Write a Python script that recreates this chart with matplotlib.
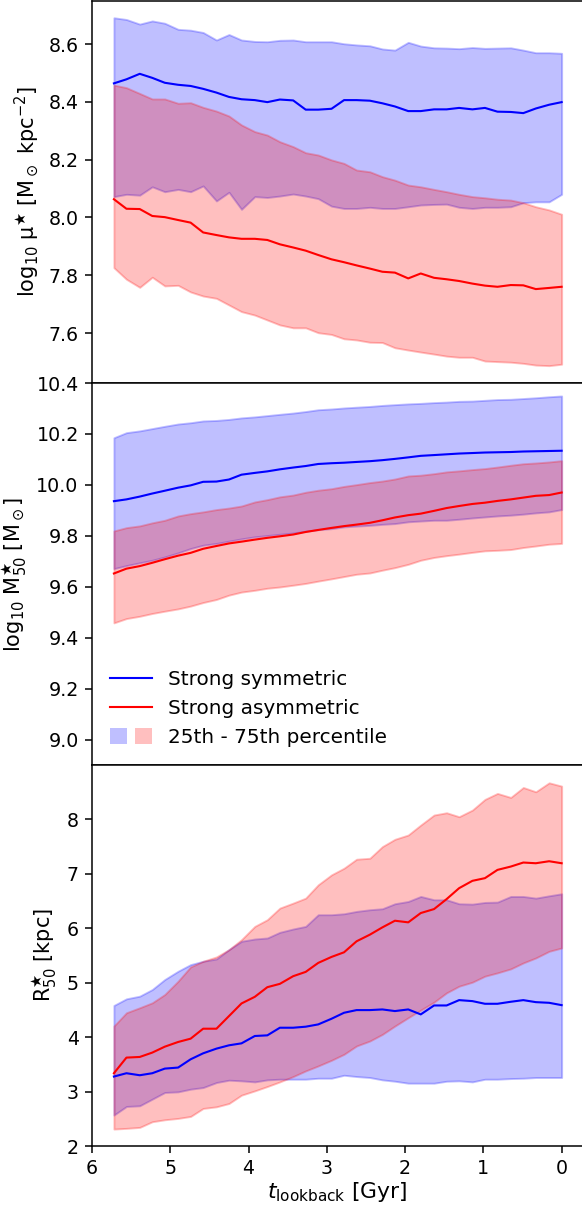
import numpy as np
import matplotlib
matplotlib.use('Agg')
import matplotlib.pyplot as plt
from matplotlib.patches import Patch
from matplotlib.lines import Line2D
from matplotlib.legend_handler import HandlerTuple

# ルックバックタイム [Gyr]
t_lookback = [5.72, 5.56, 5.39, 5.23, 5.07, 4.90, 4.74, 4.58, 4.41, 4.25, 4.09, 3.92,
              3.76, 3.60, 3.43, 3.27, 3.11, 2.94, 2.78, 2.62, 2.45, 2.29, 2.13, 1.96,
              1.80, 1.63, 1.47, 1.31, 1.14, 0.98, 0.82, 0.65, 0.49, 0.33, 0.16, 0.00]

# 表面密度 log10 mu*
mu_sym_med = [8.464, 8.478, 8.497, 8.483, 8.466, 8.459, 8.455, 8.445, 8.432, 8.417, 8.409, 8.406,
              8.399, 8.408, 8.405, 8.373, 8.373, 8.376, 8.406, 8.406, 8.404, 8.395, 8.384, 8.368,
              8.368, 8.374, 8.374, 8.379, 8.374, 8.379, 8.366, 8.365, 8.361, 8.377, 8.390, 8.399]
mu_sym_hi = [8.691, 8.685, 8.669, 8.680, 8.672, 8.651, 8.648, 8.640, 8.614, 8.633, 8.614, 8.609,
             8.608, 8.613, 8.614, 8.608, 8.608, 8.608, 8.601, 8.597, 8.594, 8.583, 8.579, 8.606,
             8.593, 8.587, 8.586, 8.584, 8.588, 8.585, 8.586, 8.587, 8.579, 8.570, 8.570, 8.568]
mu_sym_lo = [8.072, 8.080, 8.077, 8.106, 8.089, 8.097, 8.089, 8.109, 8.057, 8.087, 8.028, 8.072,
             8.069, 8.074, 8.081, 8.074, 8.065, 8.039, 8.031, 8.031, 8.035, 8.031, 8.031, 8.037,
             8.043, 8.045, 8.046, 8.035, 8.031, 8.035, 8.035, 8.037, 8.051, 8.054, 8.054, 8.080]
mu_asym_med = [8.063, 8.030, 8.029, 8.005, 8.001, 7.991, 7.982, 7.948, 7.939, 7.931, 7.926, 7.926,
               7.922, 7.907, 7.896, 7.885, 7.870, 7.855, 7.845, 7.834, 7.823, 7.812, 7.809, 7.789,
               7.806, 7.791, 7.786, 7.780, 7.771, 7.764, 7.760, 7.766, 7.765, 7.752, 7.756, 7.760]
mu_asym_hi = [8.458, 8.449, 8.429, 8.410, 8.410, 8.395, 8.397, 8.381, 8.368, 8.351, 8.320, 8.297,
              8.285, 8.262, 8.245, 8.224, 8.216, 8.199, 8.187, 8.164, 8.158, 8.141, 8.129, 8.112,
              8.106, 8.097, 8.089, 8.080, 8.072, 8.068, 8.063, 8.060, 8.051, 8.037, 8.026, 8.011]
mu_asym_lo = [7.826, 7.786, 7.758, 7.793, 7.763, 7.765, 7.742, 7.728, 7.720, 7.697, 7.674, 7.662,
              7.645, 7.628, 7.618, 7.618, 7.601, 7.595, 7.580, 7.576, 7.568, 7.567, 7.549, 7.541,
              7.534, 7.527, 7.520, 7.516, 7.516, 7.503, 7.501, 7.499, 7.495, 7.489, 7.487, 7.492]

# 恒星質量 log10 M*_50
m_sym_med = [9.936, 9.943, 9.954, 9.966, 9.977, 9.989, 9.998, 10.012, 10.013, 10.021, 10.040, 10.047,
             10.053, 10.061, 10.068, 10.074, 10.082, 10.085, 10.087, 10.090, 10.093, 10.097, 10.102, 10.108,
             10.114, 10.117, 10.120, 10.123, 10.125, 10.127, 10.128, 10.129, 10.131, 10.132, 10.133, 10.134]
m_sym_hi = [10.185, 10.205, 10.212, 10.221, 10.230, 10.239, 10.244, 10.251, 10.253, 10.257, 10.263, 10.267,
            10.272, 10.277, 10.282, 10.288, 10.295, 10.298, 10.302, 10.305, 10.308, 10.312, 10.315, 10.318,
            10.320, 10.323, 10.325, 10.328, 10.329, 10.332, 10.335, 10.336, 10.339, 10.342, 10.346, 10.349]
m_sym_lo = [9.671, 9.683, 9.694, 9.704, 9.717, 9.733, 9.750, 9.763, 9.770, 9.779, 9.788, 9.796,
            9.801, 9.806, 9.811, 9.818, 9.824, 9.828, 9.835, 9.838, 9.841, 9.845, 9.848, 9.855,
            9.858, 9.861, 9.861, 9.865, 9.870, 9.874, 9.878, 9.881, 9.885, 9.890, 9.894, 9.903]
m_asym_med = [9.652, 9.671, 9.681, 9.694, 9.708, 9.722, 9.733, 9.749, 9.760, 9.770, 9.777, 9.785,
              9.792, 9.798, 9.805, 9.815, 9.823, 9.831, 9.838, 9.844, 9.851, 9.861, 9.872, 9.881,
              9.887, 9.898, 9.909, 9.917, 9.925, 9.930, 9.937, 9.943, 9.950, 9.957, 9.960, 9.970]
m_asym_hi = [9.819, 9.832, 9.839, 9.851, 9.861, 9.878, 9.887, 9.894, 9.903, 9.909, 9.917, 9.933,
             9.942, 9.953, 9.960, 9.971, 9.979, 9.985, 9.994, 10.001, 10.009, 10.015, 10.023, 10.035,
             10.038, 10.044, 10.051, 10.055, 10.060, 10.064, 10.070, 10.077, 10.083, 10.086, 10.090, 10.095]
m_asym_lo = [9.458, 9.475, 9.484, 9.495, 9.504, 9.513, 9.524, 9.538, 9.550, 9.567, 9.579, 9.586,
             9.594, 9.599, 9.606, 9.613, 9.622, 9.631, 9.640, 9.649, 9.654, 9.665, 9.675, 9.688,
             9.704, 9.715, 9.722, 9.728, 9.735, 9.741, 9.743, 9.746, 9.754, 9.760, 9.767, 9.770]

# 半質量半径 R*_50 [kpc]
r_sym_med = [3.276, 3.337, 3.300, 3.337, 3.422, 3.441, 3.593, 3.703, 3.789, 3.850, 3.886, 4.021,
             4.033, 4.173, 4.173, 4.192, 4.234, 4.338, 4.448, 4.497, 4.497, 4.509, 4.479, 4.509,
             4.418, 4.582, 4.582, 4.680, 4.662, 4.613, 4.613, 4.650, 4.680, 4.643, 4.631, 4.588]
r_sym_hi = [4.582, 4.704, 4.753, 4.875, 5.059, 5.211, 5.333, 5.394, 5.437, 5.608, 5.761, 5.803,
            5.822, 5.926, 5.987, 6.035, 6.249, 6.249, 6.267, 6.310, 6.341, 6.359, 6.451, 6.493,
            6.585, 6.524, 6.524, 6.451, 6.444, 6.475, 6.481, 6.585, 6.585, 6.554, 6.597, 6.634]
r_sym_lo = [2.568, 2.726, 2.739, 2.861, 2.983, 2.995, 3.044, 3.074, 3.166, 3.209, 3.197, 3.178,
            3.215, 3.227, 3.227, 3.227, 3.245, 3.245, 3.300, 3.276, 3.258, 3.215, 3.190, 3.154,
            3.154, 3.154, 3.190, 3.197, 3.178, 3.227, 3.227, 3.239, 3.245, 3.258, 3.258, 3.258]
r_asym_med = [3.337, 3.624, 3.636, 3.716, 3.825, 3.911, 3.972, 4.155, 4.155, 4.387, 4.619, 4.741,
              4.918, 4.979, 5.120, 5.199, 5.364, 5.474, 5.559, 5.761, 5.883, 6.017, 6.139, 6.109,
              6.280, 6.353, 6.536, 6.737, 6.872, 6.921, 7.073, 7.134, 7.208, 7.195, 7.232, 7.195]
r_asym_hi = [4.204, 4.448, 4.540, 4.631, 4.784, 5.028, 5.291, 5.394, 5.474, 5.608, 5.791, 6.035,
             6.158, 6.371, 6.463, 6.554, 6.799, 6.982, 7.104, 7.269, 7.287, 7.501, 7.635, 7.714,
             7.897, 8.081, 8.123, 8.050, 8.172, 8.368, 8.478, 8.404, 8.587, 8.508, 8.673, 8.612]
r_asym_lo = [2.311, 2.324, 2.342, 2.446, 2.482, 2.507, 2.543, 2.690, 2.720, 2.781, 2.934, 3.013,
             3.093, 3.178, 3.276, 3.380, 3.471, 3.575, 3.685, 3.838, 3.929, 4.051, 4.204, 4.357,
             4.497, 4.643, 4.814, 4.936, 5.010, 5.120, 5.181, 5.254, 5.364, 5.455, 5.577, 5.638]

LW = 1.1


def draw_panel(ax, sym_lo, sym_med, sym_hi, asym_lo, asym_med, asym_hi):
    """中央値の線と25-75パーセンタイルの帯を描く"""
    ax.fill_between(t_lookback, sym_lo, sym_hi, color='blue', alpha=0.25)
    ax.fill_between(t_lookback, asym_lo, asym_hi, color='red', alpha=0.25)
    ax.plot(t_lookback, sym_med, color='blue', lw=LW)
    ax.plot(t_lookback, asym_med, color='red', lw=LW)


DPI = 137
W, H = 582, 1209
fig = plt.figure(figsize=(W / DPI, H / DPI), dpi=DPI)
left = 92 / W
width = (W - 92) / W
ax1 = fig.add_axes([left, (H - 383) / H, width, 382 / H])
ax2 = fig.add_axes([left, (H - 765) / H, width, 382 / H], sharex=ax1)
ax3 = fig.add_axes([left, (H - 1146) / H, width, 381 / H], sharex=ax1)

draw_panel(ax1, mu_sym_lo, mu_sym_med, mu_sym_hi, mu_asym_lo, mu_asym_med, mu_asym_hi)
draw_panel(ax2, m_sym_lo, m_sym_med, m_sym_hi, m_asym_lo, m_asym_med, m_asym_hi)
draw_panel(ax3, r_sym_lo, r_sym_med, r_sym_hi, r_asym_lo, r_asym_med, r_asym_hi)

# 軸の設定
ax1.set_xlim(6, -0.26)
ax3.set_xticks([6, 5, 4, 3, 2, 1, 0])
for ax in (ax1, ax2, ax3):
    ax.spines['right'].set_visible(False)
for ax in (ax1, ax2):
    ax.tick_params(axis='x', bottom=False, labelbottom=False)

ax1.set_ylim(7.427, 8.749)
ax1.set_yticks([7.6, 7.8, 8.0, 8.2, 8.4, 8.6])
ax2.set_ylim(8.9, 10.4)
ax2.set_yticks([9.0, 9.2, 9.4, 9.6, 9.8, 10.0, 10.2, 10.4])
ax3.set_ylim(2, 9.0)
ax3.set_yticks([2, 3, 4, 5, 6, 7, 8])

ax1.set_ylabel(r'log$_{10}$ μ$^{\bigstar}$ [M$_\odot$ kpc$^{-2}$]', fontsize=11)
ax2.set_ylabel(r'log$_{10}$ $\mathrm{M}^{\bigstar}_{50}$ [M$_\odot$]', fontsize=11)
ax3.set_ylabel(r'$\mathrm{R}^{\bigstar}_{50}$ [kpc]', fontsize=11)
ax3.set_xlabel(r'$t_{\rm lookback}$ [Gyr]', fontsize=11.5, labelpad=1)

# 凡例
handles = [Line2D([], [], color='blue', lw=LW),
           Line2D([], [], color='red', lw=LW),
           (Patch(facecolor='blue', alpha=0.25), Patch(facecolor='red', alpha=0.25))]
labels = ['Strong symmetric', 'Strong asymmetric', '25th - 75th percentile']
ax2.legend(handles, labels, loc='lower left', frameon=False, fontsize=10.5,
           handlelength=2.1, handleheight=0.8,
           handler_map={tuple: HandlerTuple(ndivide=None, pad=0.4)})

fig.savefig('out.png', dpi=DPI)
